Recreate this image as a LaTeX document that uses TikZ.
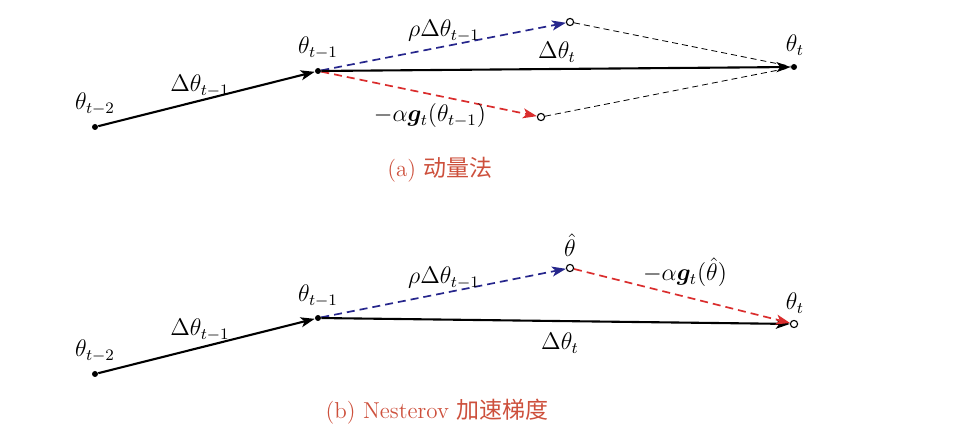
\documentclass[tikz,border=0pt]{standalone}
\usepackage{fontspec}
\newfontfamily\cjk{Noto Sans CJK SC}
\usepackage{amsmath,bm}
\usetikzlibrary{arrows.meta}
\definecolor{navyline}{RGB}{38,38,140}
\definecolor{redline}{RGB}{218,45,45}
\definecolor{captred}{RGB}{205,80,60}

\begin{document}
\begin{tikzpicture}[x=0.5pt, y=-0.5pt,
	every node/.style={font=\fontsize{11.5}{14}\selectfont},
	dot/.style={circle, fill=black, inner sep=0pt, minimum size=3pt},
	hollow/.style={circle, draw=black, fill=white, line width=0.55pt, inner sep=0pt, minimum size=3.6pt},
	move/.style={line width=1.05pt, -{Stealth[length=7pt, width=5pt, inset=1.8pt]}},
	moment/.style={navyline, line width=0.85pt, dash pattern=on 4pt off 2.5pt, -{Stealth[length=7pt, width=5pt, inset=1.8pt]}},
	grad/.style={redline, line width=0.85pt, dash pattern=on 4pt off 2.5pt, -{Stealth[length=7pt, width=5pt, inset=1.8pt]}},
	guide/.style={black, line width=0.4pt, dash pattern=on 3pt off 2pt},
	caption/.style={text=captred, font=\fontsize{11.5}{14}\selectfont}]
	\useasboundingbox (0,0) rectangle (978,442);

	% (a) momentum
	\node[dot] (a0) at (95,127) {};
	\node[dot] (a1) at (318,71) {};
	\node[hollow] (am) at (570,22) {};
	\node[hollow] (ag) at (541,117) {};
	\node[dot] (a2) at (794,67) {};
	\draw[move] (a0) -- (a1);
	\draw[moment] (a1) -- (am);
	\draw[grad] (a1) -- (ag);
	\draw[guide] (am) -- (a2);
	\draw[guide] (ag) -- (a2);
	\draw[move] (a1) -- (a2);

	\node (la0) at (95,104) {$\theta_{t-2}$};
	\node (la01) at (200,86) {$\Delta\theta_{t-1}$};
	\node (la1) at (318,48) {$\theta_{t-1}$};
	\node (lam) at (444,31) {$\rho\Delta\theta_{t-1}$};
	\node (lat) at (557,52) {$\Delta\theta_t$};
	\node (la2) at (795,45) {$\theta_t$};
	\node (lag) at (430,116) {$-\alpha\bm{g}_t(\theta_{t-1})$};
	\node[caption] (capa) at (440,170) {(a) {\cjk 动量法}};

	% (b) Nesterov
	\node[dot] (b0) at (95,374) {};
	\node[dot] (b1) at (318,318) {};
	\node[hollow] (bh) at (570,268) {};
	\node[hollow] (b2) at (794,324) {};
	\draw[move] (b0) -- (b1);
	\draw[moment] (b1) -- (bh);
	\draw[move] (b1) -- (b2);
	\draw[grad] (bh) -- (b2);

	\node (lb0) at (95,351) {$\theta_{t-2}$};
	\node (lb01) at (200,330) {$\Delta\theta_{t-1}$};
	\node (lb1) at (318,296) {$\theta_{t-1}$};
	\node (lbm) at (444,278) {$\rho\Delta\theta_{t-1}$};
	\node (lbh) at (570,245) {$\hat{\theta}$};
	\node (lbg) at (685,272) {$-\alpha\bm{g}_t(\hat{\theta})$};
	\node (lb2) at (795,303) {$\theta_t$};
	\node (lbt) at (560,343) {$\Delta\theta_t$};
	\node[caption] (capb) at (437,412) {(b) Nesterov {\cjk 加速梯度}};
\end{tikzpicture}
\end{document}
